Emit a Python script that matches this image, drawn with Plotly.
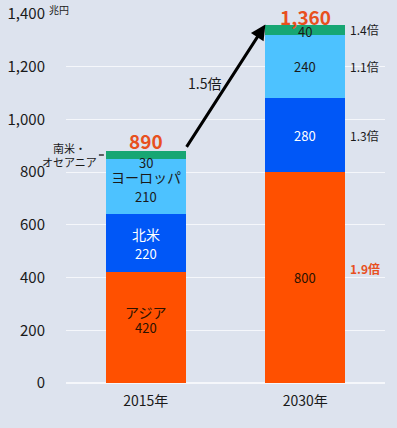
import plotly.graph_objects as go

years = ["2015年", "2030年"]
regions = ["アジア", "北米", "ヨーロッパ", "南米・オセアニア"]
asia = [420, 800]
north_america = [220, 280]
europe = [210, 240]
sa_oceania = [30, 40]
totals = [890, 1360]
growth = ["1.9倍", "1.3倍", "1.1倍", "1.4倍"]
overall_growth = "1.5倍"
y_ticks = [0, 200, 400, 600, 800, 1000, 1200, 1400]
y_ticktext = ["0", "200", "400", "600", "800", "1,000", "1,200", "1,400"]
unit = "兆円"

colors = ["#FF5000", "#0057F7", "#4DC2FF", "#17A673"]
text_colors = ["#2a1200", "#FFFFFF", "#1a1a1a", "#1a1a1a"]
FONT = "Noto Sans CJK JP"
BW = 0.5

series = [asia, north_america, europe, sa_oceania]
# label offsets (px) for 2015 name / value lines: asia, north america, europe
name_shift = [16, 9, 10]
value_shift = [0, -10, -10]

fig = go.Figure()
for name, vals, c in zip(regions, series, colors):
    fig.add_trace(go.Bar(x=years, y=vals, name=name, marker=dict(color=c, line=dict(width=0)),
                         width=BW, hoverinfo="skip"))

ann = []
for i in range(2):
    base = 0
    for k, vals in enumerate(series):
        mid = base + vals[i] / 2
        base += vals[i]
        if i == 0 and k in (0, 1, 2):
            ann.append(dict(x=i, y=mid, text=regions[k], showarrow=False, yshift=name_shift[k],
                            font=dict(family=FONT, size=14, color=text_colors[k])))
            ann.append(dict(x=i, y=mid, text=str(vals[i]), showarrow=False, yshift=value_shift[k],
                            font=dict(family=FONT, size=13, color=text_colors[k])))
        else:
            shift = 0
            if k == 3:
                shift = -7 if i == 0 else -2
            ann.append(dict(x=i, y=mid, text=str(vals[i]), showarrow=False, yshift=shift,
                            font=dict(family=FONT, size=13, color=text_colors[k])))
        if i == 1:
            txt = "<b>%s</b>" % growth[k] if k == 0 else growth[k]
            ann.append(dict(x=i + BW / 2, y=mid, text=txt, showarrow=False, xanchor="left", xshift=3,
                            yshift=9 if k == 0 else 0,
                            font=dict(family=FONT, size=12,
                                      color="#E8501E" if k == 0 else "#1a1a1a")))
for i in range(2):
    ann.append(dict(x=i, y=totals[i], text="<b>{:,}</b>".format(totals[i]), showarrow=False,
                    yanchor="middle", yshift=8,
                    font=dict(family=FONT, size=19, color="#E8501E")))
ann.append(dict(x=1 - BW / 2, y=totals[1], ax=0 + BW / 2, ay=totals[0], axref="x", ayref="y",
                xref="x", yref="y", showarrow=True, arrowhead=2, arrowsize=1, arrowwidth=3,
                arrowcolor="#000000", text=""))
ann.append(dict(x=0.37, y=1138, text=overall_growth, showarrow=False,
                font=dict(family=FONT, size=14, color="#1a1a1a")))
ann.append(dict(x=0 - BW / 2, y=865, text="南米・<br>オセアニア", showarrow=True, arrowhead=0,
                ax=-36, ay=0, standoff=2, arrowwidth=1.5, arrowcolor="#333333",
                font=dict(family=FONT, size=11, color="#1a1a1a")))
ann.append(dict(xref="paper", yref="y", x=0, y=1400, text=unit, showarrow=False, xanchor="left",
                xshift=-19, yshift=5, font=dict(family=FONT, size=10, color="#1a1a1a")))

fig.update_layout(
    width=397, height=428,
    margin=dict(l=66, r=12, t=14, b=45),
    paper_bgcolor="#DDE3EE", plot_bgcolor="#DDE3EE",
    barmode="stack", showlegend=False,
    font=dict(family=FONT, color="#1a1a1a"),
    annotations=ann,
    xaxis=dict(showgrid=False, showline=False, zeroline=False, range=[-0.5, 1.5], automargin=False,
               tickfont=dict(family=FONT, size=14, color="#1a1a1a"), ticklabelstandoff=8),
    yaxis=dict(range=[0, 1400], tickvals=y_ticks, ticktext=y_ticktext, showgrid=True, automargin=False,
               gridcolor="#F5F7FB", gridwidth=1, zeroline=True, zerolinecolor="#F5F7FB",
               showline=False, ticklabelstandoff=20,
               tickfont=dict(family=FONT, size=15, color="#1a1a1a")),
)

fig.write_html("out.html", config={"displayModeBar": False},
               post_script="document.body.style.margin='0';")
